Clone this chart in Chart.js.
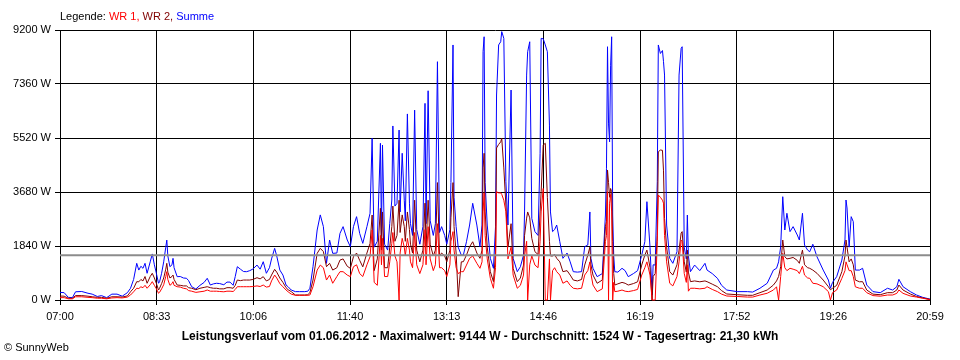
<!DOCTYPE html>
<html>
<head>
<meta charset="utf-8">
<script src="https://cdn.jsdelivr.net/npm/chart.js@4.4.1/dist/chart.umd.min.js"></script>
<style>
  body { margin:0; background:#fff; }
  #wrap { position:relative; width:960px; height:360px; font-family:"Liberation Sans", Arial, sans-serif; }
  #legend { position:absolute; left:60px; top:9px; font-size:11px; line-height:14px; color:#000; white-space:nowrap; }
  #title { position:absolute; left:0; width:960px; top:328px; text-align:center; font-size:12px; font-weight:bold; line-height:16px; color:#000; white-space:nowrap; }
  #copy { position:absolute; left:4px; top:340px; font-size:11px; line-height:14px; color:#000; }
</style>
</head>
<body>
<div id="wrap">
  <canvas id="c" width="960" height="360"></canvas>
  <div id="legend">Legende: <span style="color:#ff0000">WR 1,</span> <span style="color:#800000">WR 2,</span> <span style="color:#0000ff">Summe</span></div>
  <div id="title">Leistungsverlauf vom 01.06.2012 - Maximalwert: 9144 W - Durchschnitt: 1524 W - Tagesertrag: 21,30 kWh</div>
  <div id="copy">© SunnyWeb</div>
</div>
<script>
// minutes after 07:00
const times = [0,4,8,12,15,21,27,31,36,40,45,50,55,60,65,68,71,74,76,78,80,82,84,87,89,91,93,95,96,98,100,102,103,104,106,108,109,110,113,116,119,122,124,127,131,135,139,142,145,148,151,154,158,161,164,167,169,171,174,177,180,183,186,190,193,196,199,202,204,207,209,212,215,218,220,223,227,231,236,239,241,244,248,251,254,257,260,263,267,270,273,277,280,283,286,289,292,296,299,301,303,306,309,310,311,313,316,318,320,321,323,325,327,328,330,332,333,335,337,338,340,342,344,347,350,352,353,355,357,360,362,364,366,368,371,373,376,377,379,380,382,384,387,389,392,395,398,402,405,407,408,409,410,412,415,418,420,421,423,425,426,428,430,432,435,437,441,444,447,448,450,451,453,455,458,461,463,464,466,468,470,472,473,475,477,479,482,485,489,492,495,499,503,506,509,511,512,514,518,523,526,527,528,529,530,531,532,533,534,535,538,542,545,548,553,557,561,564,566,569,571,572,574,576,577,579,581,582,583,585,588,591,595,597,599,600,602,604,605,606,608,612,617,622,624,629,634,638,643,653,663,668,675,682,688,691,693,695,697,699,701,704,707,711,713,716,718,721,723,726,730,736,741,743,745,749,754,757,758,759,761,763,765,767,771,774,778,784,791,798,803,807,809,813,820,826,832,839];

const summe = [260,250,90,80,280,290,230,200,120,150,80,200,200,130,250,400,700,1250,1020,1150,1080,1250,910,1300,1570,1200,900,570,620,910,1300,1800,2040,1500,1135,1200,1420,1100,795,800,750,740,660,453,375,500,600,740,510,550,570,560,520,610,610,500,800,1135,1050,970,965,1000,1055,1190,1050,1305,910,1100,1400,1760,1500,1020,850,510,450,340,285,285,285,300,400,1135,2385,2900,2500,1250,2044,1590,1600,2270,2500,2044,1815,2500,2840,2270,1930,2500,2955,5510,1800,2000,5340,2200,5280,1900,1700,2600,3407,5930,3200,3295,5790,3000,5000,3400,2700,6340,3300,2600,2200,6470,2400,1900,2500,6700,2600,7130,2700,2200,2600,8120,2300,2500,2200,1900,2400,4000,8690,3500,2500,1800,1530,1530,1985,2555,3295,2555,1815,2555,8460,8970,4000,2555,1420,1080,2500,6985,8690,8800,9144,8915,4030,2555,7155,1420,965,1135,1530,3000,7665,8460,8800,2780,2330,2200,5000,8915,8900,8690,8460,5960,3000,2330,2400,2555,1985,1420,1600,1300,965,950,965,1815,1875,3000,1420,1080,795,900,2896,4490,8630,6000,5390,8000,8970,2896,1500,965,950,1080,1000,795,900,1000,1530,1985,3350,1800,170,1200,1190,4030,8690,8400,8500,8120,7665,2555,1420,1250,1645,7665,8575,8630,1800,1400,2896,1500,965,1190,1000,1250,1020,900,740,500,340,285,285,270,400,570,1020,1080,1300,1815,3520,2385,2955,2330,2500,2215,2044,2955,1875,1700,1645,1900,1475,1020,680,400,600,795,1360,2044,3407,3135,1800,2840,2670,1020,1020,1080,510,285,250,400,340,453,705,453,285,170,90,30];

const wr2 = [135,130,60,60,150,150,130,110,90,90,60,110,110,100,140,280,400,625,620,700,650,800,570,800,910,750,560,340,400,560,750,1050,1250,950,750,800,850,700,510,500,480,480,420,400,350,400,430,453,420,400,400,380,380,420,420,400,500,680,660,680,680,680,700,760,720,795,650,700,850,1045,950,750,600,420,350,285,170,170,170,180,250,680,1590,1760,1650,1135,1250,1020,1100,1360,1400,1150,1080,1475,1600,1350,1130,1600,1930,2896,1000,1400,3125,1700,3000,1100,1100,1800,2500,3200,2000,2200,3400,2300,2900,2500,2000,3000,2400,1900,1600,3400,1700,1300,1700,3300,1800,3400,1900,1500,1700,4000,1500,1600,1500,1300,1700,2800,4000,2500,1600,113,1300,1305,1530,1815,1985,1600,1420,1700,4500,5000,3000,1800,965,625,1600,5180,5300,5390,5510,4500,3237,1800,2600,1080,625,750,1190,2200,2790,3000,2800,2100,1645,1550,3000,3690,5280,5340,3500,2000,1500,1500,1550,1420,1300,965,1000,850,680,650,700,1190,1530,1800,1200,850,570,680,2500,2670,4430,4000,3500,3800,3690,2000,900,510,550,600,570,510,560,620,1190,1530,1700,1100,0,800,900,2200,5050,5110,5100,4400,2780,1800,965,850,1200,1700,2280,2330,1300,950,1700,950,625,650,620,650,625,540,453,320,205,180,160,160,250,340,510,650,800,1135,2044,1475,1400,1420,1450,1350,1250,1700,1200,1100,1080,1020,910,680,453,350,400,500,965,1500,2044,1800,1300,1400,1200,680,620,625,340,200,180,250,250,340,510,340,205,120,70,20];

const wr1 = [80,80,40,40,110,110,90,80,60,60,40,70,80,70,100,170,280,400,390,450,420,500,400,520,625,500,380,230,260,380,520,800,965,700,500,560,625,500,453,440,400,380,320,300,260,280,300,340,300,300,300,290,280,300,300,290,360,453,453,453,453,453,460,480,460,510,440,460,650,850,750,560,450,340,280,200,160,160,160,160,170,453,1020,1190,1100,680,850,570,800,965,965,850,795,1135,1200,900,800,1200,1475,2385,600,500,2200,1200,2100,800,800,1300,1930,2300,1500,1300,0,1600,2100,1800,1500,2100,1700,1300,1100,2300,1200,900,1200,2400,1200,2500,1400,1000,1200,2600,1100,1100,1000,800,1200,2000,2330,1700,1100,900,965,965,1190,1420,1500,1250,1080,1300,3000,3650,2200,1400,740,400,1100,3690,3650,3650,3600,3400,3010,1400,1800,850,400,500,850,1500,2000,0,1200,1500,1190,1100,2000,3000,3800,0,0,1400,0,1000,1100,965,850,570,650,500,400,380,400,850,1000,1300,900,510,285,380,2000,2200,3690,0,3300,3600,3000,0,600,285,300,340,300,285,320,360,850,1100,1300,850,0,0,0,2000,3577,3500,3400,3300,2200,1300,570,480,800,1300,2040,2000,900,600,1200,300,400,400,380,400,453,360,285,200,136,120,100,100,170,230,340,450,0,800,1590,1100,1000,1080,1050,1000,900,1150,850,750,740,570,550,453,285,0,250,340,740,1000,1300,1200,1000,1000,800,450,400,400,250,150,130,170,170,227,340,227,136,100,60,10];

const average = 1524;
const xLabels = ['07:00','08:33','10:06','11:40','13:13','14:46','16:19','17:52','19:26','20:59'];
const xMax = 839;
const yMax = 9200, yStep = 1840;

const pts = arr => times.map((t, i) => ({x: t, y: arr[i]}));
const fontTick = {family: '"Liberation Sans", Arial, sans-serif', size: 11};

new Chart(document.getElementById('c'), {
  type: 'line',
  data: {
    datasets: [
      {label: 'Durchschnitt', data: [{x: 0, y: average}, {x: xMax, y: average}], borderColor: '#8c8c8c', borderWidth: 2, pointRadius: 0},
      {label: 'WR 1', data: pts(wr1), borderColor: '#ff0000', borderWidth: 1, pointRadius: 0, tension: 0, clip: 2},
      {label: 'WR 2', data: pts(wr2), borderColor: '#800000', borderWidth: 1, pointRadius: 0, tension: 0, clip: 2},
      {label: 'Summe', data: pts(summe), borderColor: '#0000ff', borderWidth: 1, pointRadius: 0, tension: 0, clip: 2}
    ]
  },
  options: {
    responsive: false,
    animation: false,
    events: [],
    layout: {padding: {top: 30, right: 30, left: 0, bottom: 0}},
    plugins: {legend: {display: false}, tooltip: {enabled: false}},
    scales: {
      x: {
        type: 'linear', min: 0, max: xMax,
        afterBuildTicks: s => { s.ticks = xLabels.map((l, i) => ({value: i * xMax / (xLabels.length - 1)})); },
        afterFit: s => { s.height = 60; },
        ticks: {autoSkip: false, maxRotation: 0, padding: 5, color: '#000', font: fontTick,
                callback: (v, i) => xLabels[i]},
        grid: {color: '#000', lineWidth: 1, tickLength: 5},
        border: {color: '#000', width: 1}
      },
      y: {
        min: 0, max: yMax,
        afterFit: s => { s.width = 60; },
        ticks: {stepSize: yStep, padding: 4, color: '#000', font: fontTick, callback: v => v + ' W'},
        grid: {color: '#000', lineWidth: 1, tickLength: 5},
        border: {color: '#000', width: 1}
      }
    }
  }
});
</script>
</body>
</html>
